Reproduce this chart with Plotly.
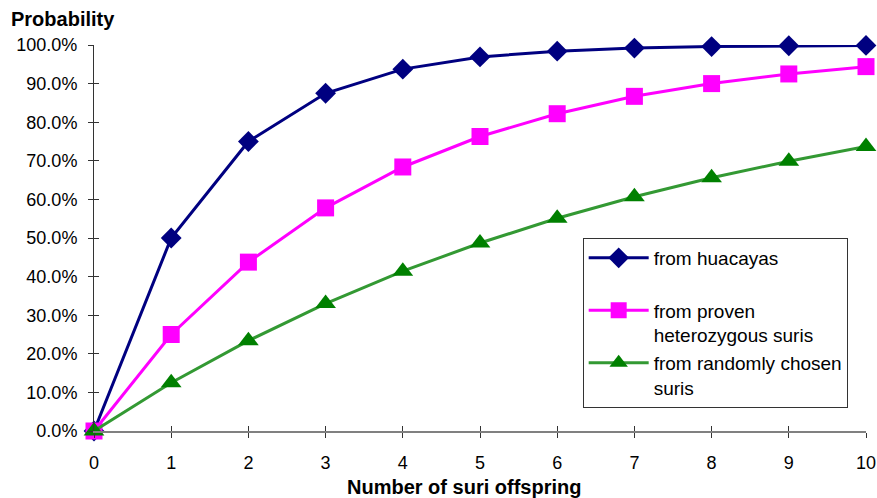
import plotly.graph_objects as go

# Number of suri offspring
offspring = [0, 1, 2, 3, 4, 5, 6, 7, 8, 9, 10]

# Probability of at least one suri offspring (fraction)
from_huacayas = [0.0, 0.500, 0.750, 0.875, 0.9375, 0.969, 0.984, 0.992, 0.996, 0.998, 0.999]
from_proven_het = [0.0, 0.250, 0.4375, 0.578, 0.684, 0.763, 0.822, 0.867, 0.900, 0.925, 0.944]
from_random = [0.0, 0.125, 0.234, 0.330, 0.414, 0.487, 0.551, 0.607, 0.656, 0.699, 0.737]

y_ticks = [i / 10 for i in range(11)]

FONT = "Liberation Sans, Arial, sans-serif"

fig = go.Figure()

fig.add_trace(go.Scatter(
    x=offspring, y=from_huacayas, mode="lines+markers",
    name="from huacayas<br>&nbsp;",
    line=dict(color="#000080", width=3),
    marker=dict(symbol="diamond", size=16, color="#000080"),
    cliponaxis=False,
))
fig.add_trace(go.Scatter(
    x=offspring, y=from_proven_het, mode="lines+markers",
    name="from proven<br>heterozygous suris",
    line=dict(color="#FF00FF", width=3),
    marker=dict(symbol="square", size=17, color="#FF00FF"),
    cliponaxis=False,
))
fig.add_trace(go.Scatter(
    x=offspring, y=from_random, mode="lines+markers",
    name="from randomly chosen<br>suris",
    line=dict(color="#339933", width=3),
    marker=dict(symbol="triangle-up", size=18, color="#008000"),
    cliponaxis=False,
))

fig.update_layout(
    width=877, height=498,
    margin=dict(l=94, r=11, t=45, b=67, autoexpand=False),
    paper_bgcolor="white", plot_bgcolor="white",
    font=dict(family=FONT, size=18, color="black"),
    showlegend=True,
    legend=dict(
        x=0.633, y=0.5, xanchor="left", yanchor="top",
        bordercolor="#333333", borderwidth=1, bgcolor="white",
        font=dict(family=FONT, size=19, color="black"),
        valign="top", tracegroupgap=0, itemwidth=60,
    ),
    xaxis=dict(
        range=[0, 10], tickvals=offspring, ticks="outside", ticklen=5,
        tickcolor="#333333", showline=True, linecolor="#808080", linewidth=2,
        showgrid=False, zeroline=False, tickfont=dict(size=18),
        ticklabelstandoff=9, automargin=False,
    ),
    yaxis=dict(
        range=[0, 1], tickvals=y_ticks, tickformat=".1%", ticks="outside",
        ticklen=5, tickcolor="#333333", showline=True, linecolor="#333333",
        linewidth=1, showgrid=False, zeroline=False, tickfont=dict(size=18),
        ticklabelstandoff=7, automargin=False,
    ),
    # overlay axes supply the inner half of the crossing tick marks
    xaxis2=dict(
        range=[0, 10], tickvals=offspring, ticks="inside", ticklen=5,
        tickcolor="#333333", showticklabels=False, overlaying="x",
        anchor="y", showgrid=False, zeroline=False, showline=False,
    ),
    yaxis2=dict(
        range=[0, 1], tickvals=y_ticks, ticks="inside", ticklen=5,
        tickcolor="#333333", showticklabels=False, overlaying="y",
        anchor="x", showgrid=False, zeroline=False, showline=False,
    ),
    annotations=[
        dict(text="<b>Probability</b>", xref="paper", yref="paper",
             x=-0.110, y=1.0, xanchor="left", yanchor="bottom", yshift=13,
             showarrow=False, font=dict(family=FONT, size=20)),
        dict(text="<b>Number of suri offspring</b>", xref="paper", yref="paper",
             x=0.479, y=0, xanchor="center", yanchor="top", yshift=-43,
             showarrow=False, font=dict(family=FONT, size=20)),
    ],
)

# invisible trace to activate the overlay axes
fig.add_trace(go.Scatter(x=[0], y=[0], xaxis="x2", yaxis="y2", mode="markers",
                         marker=dict(opacity=0), showlegend=False, hoverinfo="skip"))

fig.write_html("out.html")
